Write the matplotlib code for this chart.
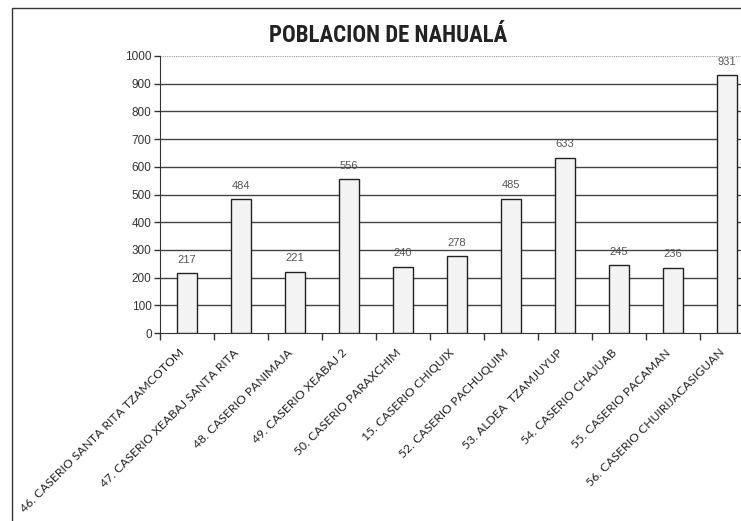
import matplotlib.pyplot as plt
from matplotlib.patches import Rectangle
from matplotlib.transforms import ScaledTranslation

# Poblacion por lugar poblado
lugares = ['46. CASERIO SANTA RITA TZAMCOTOM',
           '47. CASERIO XEABAJ SANTA RITA',
           '48. CASERIO PANIMAJA',
           '49. CASERIO XEABAJ 2',
           '50. CASERIO PARAXCHIM',
           '15. CASERIO CHIQUIX',
           '52. CASERIO PACHUQUIM',
           '53. ALDEA  TZAMJUYUP',
           '54. CASERIO CHAJUAB',
           '55. CASERIO PACAMAN',
           '56. CASERIO CHUIRIJACASIGUAN']
poblacion = [217, 484, 221, 556, 240, 278, 485, 633, 245, 236, 931]
y_ticks = [0, 100, 200, 300, 400, 500, 600, 700, 800, 900, 1000]


def main():
    fig = plt.figure(figsize=(7.41, 5.21), dpi=100, facecolor='white')

    # marco exterior del grafico
    fig.patches.append(Rectangle((12 / 741, -0.1), 1.2, 1 - 8 / 521 + 0.1,
                                 transform=fig.transFigure, fill=False,
                                 edgecolor='#333333', linewidth=1.0))

    ax = fig.add_axes([160 / 741, 188 / 521, 594 / 741, 277 / 521])
    x = list(range(len(poblacion)))
    ax.bar(x, poblacion, width=0.37, color='#f3f3f3', edgecolor='#222222',
           linewidth=1.0, zorder=3)

    ax.set_xlim(-0.5, len(poblacion) - 0.5)
    ax.set_ylim(0, 1000)

    # lineas de division
    for v in y_ticks[1:-1]:
        ax.axhline(v, color='#444444', linewidth=1.0, zorder=1)
    ax.axhline(1000, color='#999999', linewidth=0.8, linestyle=(0, (1, 1)), zorder=1)

    for s in ['top', 'right']:
        ax.spines[s].set_visible(False)
    ax.spines['left'].set_color('#333333')
    ax.spines['bottom'].set_color('#333333')

    ax.set_yticks(y_ticks)
    ax.set_yticklabels([str(v) for v in y_ticks], fontsize=8.5, color='#333333',
                       family='Liberation Sans')
    ax.tick_params(axis='y', length=4, width=1, color='#333333', pad=2)

    # marcas entre categorias
    ax.set_xticks([i - 0.5 for i in range(len(poblacion) + 1)], minor=True)
    ax.set_xticks(x)
    ax.tick_params(axis='x', which='major', length=0, pad=10)
    ax.tick_params(axis='x', which='minor', length=5, width=1, color='#333333')
    labels = ax.set_xticklabels(lugares, rotation=45, ha='right', va='top',
                                rotation_mode='anchor', fontsize=8.7,
                                color='#222222', family='Lato')
    shift = ScaledTranslation(-8 / 100, 0, fig.dpi_scale_trans)
    for lab in labels:
        lab.set_transform(lab.get_transform() + shift)

    for xi, v in zip(x, poblacion):
        ax.annotate(str(v), (xi, v), xytext=(0, 6), textcoords='offset points',
                    ha='center', va='bottom', fontsize=8, color='#555555',
                    family='Liberation Sans', zorder=0)

    fig.text(388 / 741, 1 - 35 / 521, 'POBLACION DE NAHUALÁ', ha='center',
             va='center', fontsize=16.5, fontweight='bold', fontstretch='condensed',
             color='#222222',
             family=['Liberation Sans Narrow', 'DejaVu Sans Condensed',
                     'Roboto Condensed', 'DejaVu Sans'])

    fig.savefig('out.png', dpi=100, facecolor='white')


if __name__ == '__main__':
    main()
